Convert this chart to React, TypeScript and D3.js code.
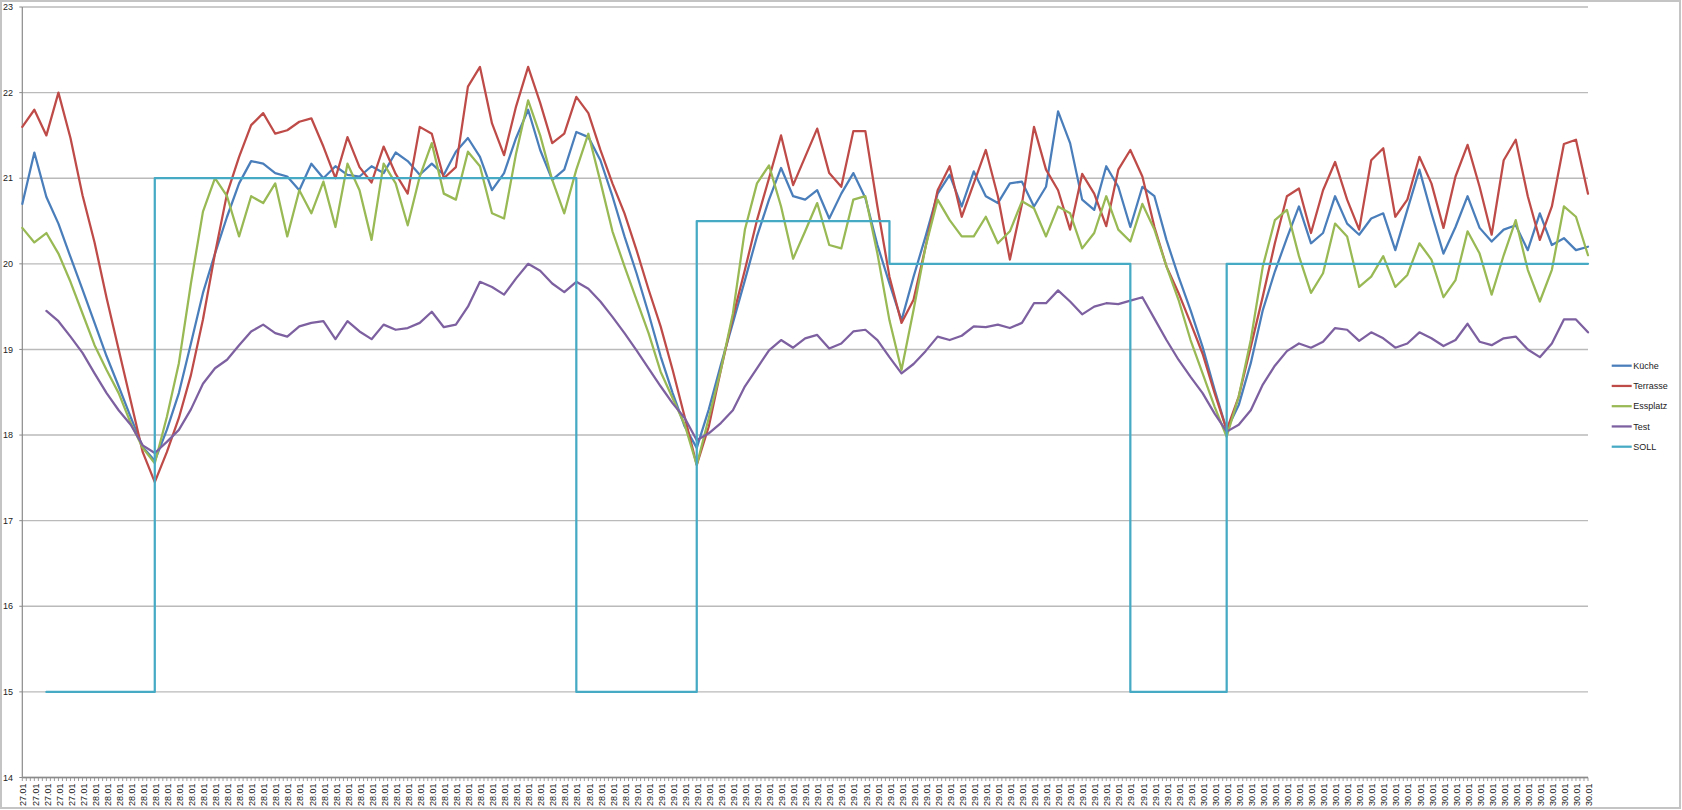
import React, { useEffect } from "react";
import * as d3 from "d3";

// x-axis category labels (one per labelled category)
const dateLabels: string[] = [
  "27.01", "27.01", "27.01", "27.01", "27.01", "27.01",
  "28.01", "28.01", "28.01", "28.01", "28.01", "28.01", "28.01", "28.01", "28.01", "28.01",
  "28.01", "28.01", "28.01", "28.01", "28.01", "28.01", "28.01", "28.01", "28.01", "28.01",
  "28.01", "28.01", "28.01", "28.01", "28.01", "28.01", "28.01", "28.01", "28.01", "28.01",
  "28.01", "28.01", "28.01", "28.01", "28.01", "28.01", "28.01", "28.01", "28.01", "28.01",
  "28.01", "28.01", "28.01", "28.01", "28.01",
  "29.01", "29.01", "29.01", "29.01", "29.01", "29.01", "29.01", "29.01", "29.01", "29.01",
  "29.01", "29.01", "29.01", "29.01", "29.01", "29.01", "29.01", "29.01", "29.01", "29.01",
  "29.01", "29.01", "29.01", "29.01", "29.01", "29.01", "29.01", "29.01", "29.01", "29.01",
  "29.01", "29.01", "29.01", "29.01", "29.01", "29.01", "29.01", "29.01", "29.01", "29.01",
  "29.01", "29.01", "29.01", "29.01", "29.01", "29.01", "29.01",
  "30.01", "30.01", "30.01", "30.01", "30.01", "30.01", "30.01", "30.01", "30.01", "30.01",
  "30.01", "30.01", "30.01", "30.01", "30.01", "30.01", "30.01", "30.01", "30.01", "30.01",
  "30.01", "30.01", "30.01", "30.01", "30.01", "30.01", "30.01", "30.01", "30.01", "30.01",
  "30.01", "30.01", "30.01",
];

const kueche: (number | null)[] = [
  20.7, 21.3, 20.78, 20.47, 20.08, 19.7, 19.31, 18.92, 18.57, 18.21,
  17.86, 17.7, 18.06, 18.49, 19.07, 19.66, 20.12, 20.55, 20.94, 21.2,
  21.17, 21.06, 21.02, 20.86, 21.17, 21.0, 21.14, 21.04, 21.02, 21.14,
  21.06, 21.3, 21.2, 21.04, 21.17, 21.04, 21.31, 21.47, 21.25, 20.86,
  21.06, 21.47, 21.8, 21.33, 20.98, 21.1, 21.54, 21.48, 21.21, 20.79,
  20.32, 19.89, 19.42, 18.92, 18.49, 18.1, 17.85, 18.3, 18.82, 19.31,
  19.81, 20.32, 20.75, 21.12, 20.79, 20.75, 20.86, 20.53, 20.82, 21.06,
  20.77, 20.22, 19.77, 19.34, 19.85, 20.32, 20.82, 21.04, 20.67, 21.08,
  20.79, 20.71, 20.94, 20.96, 20.67, 20.9, 21.78, 21.41, 20.75, 20.63,
  21.14, 20.9, 20.43, 20.9, 20.79, 20.28, 19.85, 19.46, 19.03, 18.53,
  18.06, 18.35, 18.84, 19.46, 19.91, 20.3, 20.67, 20.24, 20.36, 20.79,
  20.47, 20.34, 20.53, 20.59, 20.16, 20.63, 21.1, 20.59, 20.12, 20.43,
  20.79, 20.42, 20.26, 20.4, 20.45, 20.16, 20.59, 20.22, 20.3, 20.16,
  20.2,
];

const terrasse: (number | null)[] = [
  21.6, 21.8, 21.5, 22.0, 21.47, 20.8, 20.25, 19.6, 19.0, 18.4,
  17.8, 17.45, 17.8, 18.2, 18.7, 19.35, 20.12, 20.82, 21.25, 21.62,
  21.76, 21.52, 21.56, 21.66, 21.7, 21.37, 21.0, 21.48, 21.13, 20.95,
  21.37, 21.05, 20.82, 21.6, 21.52, 21.0, 21.13, 22.07, 22.3, 21.64,
  21.27, 21.84, 22.3, 21.88, 21.41, 21.52, 21.95, 21.76, 21.33, 20.94,
  20.59, 20.16, 19.7, 19.27, 18.76, 18.21, 17.65, 18.1, 18.76, 19.38,
  19.93, 20.51, 21.0, 21.5, 20.92, 21.25, 21.58, 21.06, 20.9, 21.55,
  21.55, 20.67, 19.85, 19.31, 19.58, 20.2, 20.86, 21.14, 20.55, 20.94,
  21.33, 20.79, 20.05, 20.7, 21.6, 21.1, 20.86, 20.4, 21.05, 20.82,
  20.44, 21.1, 21.33, 21.02, 20.43, 19.97, 19.66, 19.31, 18.95, 18.49,
  18.06, 18.45, 19.03, 19.62, 20.24, 20.79, 20.88, 20.36, 20.86, 21.19,
  20.75, 20.4, 21.21, 21.35, 20.55, 20.75, 21.25, 20.94, 20.42, 21.02,
  21.39, 20.9, 20.34, 21.21, 21.45, 20.79, 20.28, 20.67, 21.4, 21.45,
  20.82,
];

const essplatz: (number | null)[] = [
  20.42, 20.25, 20.36, 20.12, 19.79, 19.42, 19.05, 18.76, 18.49, 18.14,
  17.85, 17.67, 18.21, 18.84, 19.77, 20.61, 21.0, 20.79, 20.32, 20.79,
  20.71, 20.94, 20.32, 20.86, 20.59, 20.96, 20.43, 21.17, 20.86, 20.28,
  21.17, 20.94, 20.45, 21.02, 21.41, 20.82, 20.75, 21.31, 21.14, 20.59,
  20.53, 21.29, 21.91, 21.5, 20.98, 20.59, 21.1, 21.52, 20.96, 20.38,
  19.97, 19.58, 19.19, 18.74, 18.43, 18.12, 17.65, 18.2, 18.76, 19.42,
  20.4, 20.94, 21.15, 20.67, 20.06, 20.38, 20.71, 20.22, 20.18, 20.75,
  20.79, 20.12, 19.34, 18.76, 19.46, 20.2, 20.75, 20.51, 20.32, 20.32,
  20.55, 20.24, 20.38, 20.73, 20.65, 20.32, 20.67, 20.59, 20.18, 20.36,
  20.79, 20.4, 20.26, 20.7, 20.4, 19.97, 19.58, 19.11, 18.72, 18.33,
  17.98, 18.45, 19.11, 19.97, 20.51, 20.63, 20.09, 19.66, 19.89, 20.47,
  20.32, 19.73, 19.85, 20.09, 19.73, 19.87, 20.24, 20.05, 19.61, 19.81,
  20.38, 20.12, 19.64, 20.1, 20.51, 19.93, 19.56, 19.93, 20.67, 20.55,
  20.1,
];

const test: (number | null)[] = [
  null, null, 19.45, 19.33, 19.15, 18.96, 18.72, 18.49, 18.29, 18.12,
  17.88, 17.79, 17.92, 18.06, 18.3, 18.6, 18.78, 18.88, 19.05, 19.21,
  19.29, 19.19, 19.15, 19.27, 19.31, 19.33, 19.12, 19.33, 19.21, 19.12,
  19.29, 19.23, 19.25, 19.31, 19.44, 19.26, 19.29, 19.5, 19.79, 19.73,
  19.64, 19.83, 20.0, 19.92, 19.77, 19.67, 19.79, 19.71, 19.56, 19.38,
  19.19, 18.99, 18.78, 18.57, 18.37, 18.2, 17.94, 18.02, 18.14, 18.29,
  18.57, 18.78, 18.99, 19.11, 19.02, 19.13, 19.17, 19.01, 19.07, 19.21,
  19.23, 19.11, 18.91, 18.72, 18.83, 18.98, 19.15, 19.11, 19.16, 19.27,
  19.26, 19.29, 19.25, 19.31, 19.54, 19.54, 19.69, 19.56, 19.41, 19.5,
  19.54, 19.53, 19.57, 19.61, 19.36, 19.11, 18.88, 18.68, 18.49, 18.25,
  18.04, 18.12, 18.29, 18.59, 18.81, 18.98, 19.07, 19.02, 19.09, 19.25,
  19.23, 19.1, 19.2, 19.13, 19.02, 19.07, 19.2, 19.13, 19.04, 19.11,
  19.3, 19.09, 19.05, 19.13, 19.15, 19.0, 18.91, 19.07, 19.35, 19.35,
  19.2,
];

const soll: (number | null)[] = [
  null, null, 15, 15, 15, 15, 15, 15, 15, 15,
  15, 21, 21, 21, 21, 21, 21, 21, 21, 21,
  21, 21, 21, 21, 21, 21, 21, 21, 21, 21,
  21, 21, 21, 21, 21, 21, 21, 21, 21, 21,
  21, 21, 21, 21, 21, 21, 15, 15, 15, 15,
  15, 15, 15, 15, 15, 15, 20.5, 20.5, 20.5, 20.5,
  20.5, 20.5, 20.5, 20.5, 20.5, 20.5, 20.5, 20.5, 20.5, 20.5,
  20.5, 20.5, 20, 20, 20, 20, 20, 20, 20, 20,
  20, 20, 20, 20, 20, 20, 20, 20, 20, 20,
  20, 20, 15, 15, 15, 15, 15, 15, 15, 15,
  20, 20, 20, 20, 20, 20, 20, 20, 20, 20,
  20, 20, 20, 20, 20, 20, 20, 20, 20, 20,
  20, 20, 20, 20, 20, 20, 20, 20, 20, 20,
  20,
];

const yTicks: number[] = [14, 15, 16, 17, 18, 19, 20, 21, 22, 23];
const seriesNames: string[] = ["Küche", "Terrasse", "Essplatz", "Test", "SOLL"];
const seriesColors: string[] = ["#4A7EBB", "#BE4B48", "#98B954", "#7D60A0", "#46AAC5"];

const FONT = "'Liberation Sans', Arial, sans-serif";

export default function App() {
  useEffect(() => {
    document.body.style.margin = "0";
  }, []);

  const W = 1682;
  const H = 810;
  const x = d3.scaleLinear().domain([0, dateLabels.length - 1]).range([22.3, 1588]);
  const y = d3.scaleLinear().domain([14, 23]).range([777.5, 7]);

  const seriesValues = [kueche, terrasse, essplatz, test, soll];
  const lineGen = (curve: d3.CurveFactory) =>
    d3
      .line<number | null>()
      .defined((d) => d != null)
      .x((_, i) => x(i))
      .y((d) => y(d as number))
      .curve(curve);

  const minorTicks = d3.range(0, (dateLabels.length - 1) * 3 + 1).map((i) => i / 3);
  const [x0, x1] = x.range();

  const legendX = 1611.7;
  const legendY0 = 365.7;
  const legendStep = 20.25;

  return (
    <svg width={W} height={H} style={{ display: "block", background: "#fff" }}>
      <rect x={1} y={1} width={W - 3} height={H - 3} fill="#fff" stroke="#c4c4c4" strokeWidth={2} />
      {/* gridlines */}
      {yTicks.map((t) => (
        <line key={"g" + t} x1={x0} x2={x1} y1={y(t)} y2={y(t)} stroke="#bababa" strokeWidth={1.4} />
      ))}
      {/* y axis */}
      <line x1={x0} x2={x0} y1={y(23)} y2={y(14)} stroke="#8a8a8a" strokeWidth={1.2} />
      {yTicks.map((t) => (
        <g key={"yt" + t}>
          <line x1={x0 - 3} x2={x0} y1={y(t)} y2={y(t)} stroke="#8a8a8a" strokeWidth={1} />
          <text x={3} y={y(t)} dy="0.35em" fontFamily={FONT} fontSize={9} fill="#222">
            {t}
          </text>
        </g>
      ))}
      {/* x axis */}
      {minorTicks.map((v, i) => (
        <line key={"xt" + i} x1={x(v)} x2={x(v)} y1={y(14)} y2={y(14) + 3.5} stroke="#9c9c9c" strokeWidth={1} />
      ))}
      <line x1={x0} x2={x1} y1={y(14)} y2={y(14)} stroke="#8a8a8a" strokeWidth={1.5} />
      {dateLabels.map((lab, i) => (
        <text
          key={"xl" + i}
          transform={`translate(${x(i) + 1},${783.5}) rotate(-90)`}
          dy="0.35em"
          textAnchor="end"
          fontFamily={FONT}
          fontSize={9}
          fill="#222"
        >
          {lab}
        </text>
      ))}
      {/* series */}
      {seriesValues.map((vals, si) => (
        <path
          key={"s" + si}
          d={lineGen(si === 4 ? d3.curveStepAfter : d3.curveLinear)(vals) || ""}
          fill="none"
          stroke={seriesColors[si]}
          strokeWidth={2.25}
          strokeLinejoin="round"
          strokeLinecap="round"
        />
      ))}
      {/* legend */}
      {seriesNames.map((name, i) => (
        <g key={"lg" + i}>
          <line
            x1={legendX}
            x2={legendX + 20}
            y1={legendY0 + i * legendStep}
            y2={legendY0 + i * legendStep}
            stroke={seriesColors[i]}
            strokeWidth={2.25}
          />
          <text
            x={legendX + 21.5}
            y={legendY0 + i * legendStep}
            dy="0.35em"
            fontFamily={FONT}
            fontSize={9}
            fill="#222"
          >
            {name}
          </text>
        </g>
      ))}
    </svg>
  );
}
